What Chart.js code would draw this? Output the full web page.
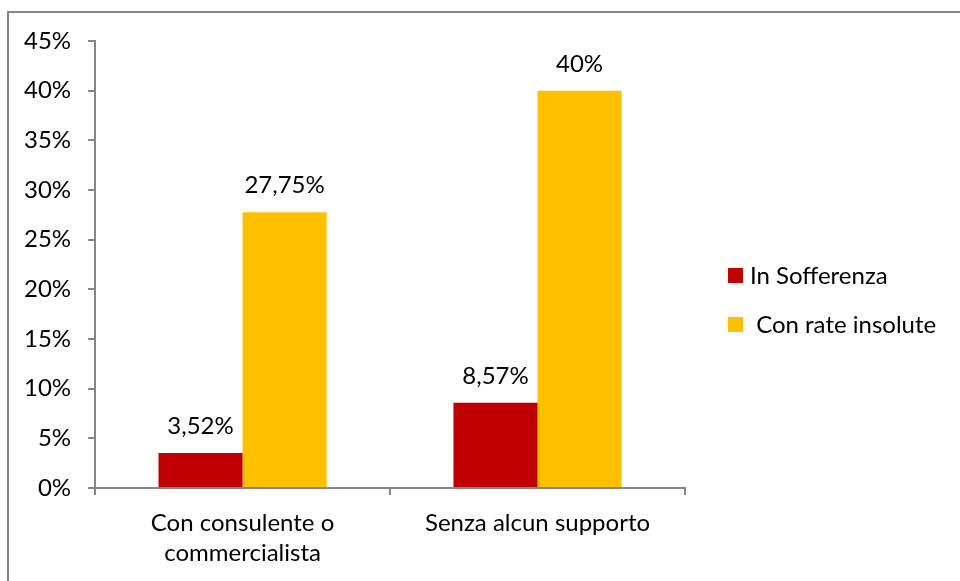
<!DOCTYPE html>
<html>
<head>
<meta charset="utf-8">
<script src="https://cdn.jsdelivr.net/npm/chart.js@4.4.0/dist/chart.umd.min.js"></script>
<style>
    html, body { margin: 0; padding: 0; background: #fff; }
    .wrap { position: relative; width: 960px; height: 581px; overflow: hidden; }
    .frame { position: absolute; left: 7px; top: 11px; width: 1000px; height: 700px; border-left: 2px solid #878787; border-top: 2px solid #878787; }
    canvas { position: absolute; left: 0; top: 0; }
</style>
</head>
<body>
<div class="wrap">
    <div class="frame"></div>
    <canvas id="chart" width="960" height="581"></canvas>
</div>
<script>
const categories = [['Con consulente o', 'commercialista'], 'Senza alcun supporto'];
const seriesNames = ['In Sofferenza', ' Con rate insolute'];
const sofferenza = [3.52, 8.57];
const rateInsolute = [27.75, 40];
const yTicks = [0, 5, 10, 15, 20, 25, 30, 35, 40, 45];

const FONT = 'Lato, "Open Sans", sans-serif';
const SIZE = 24;
const AXIS = '#868686';

const fmt = v => String(v).replace('.', ',') + '%';

// value labels above each bar
const barLabels = {
    id: 'barLabels',
    afterDatasetsDraw(chart) {
        const ctx = chart.ctx;
        ctx.save();
        ctx.font = SIZE + 'px ' + FONT;
        ctx.fillStyle = '#000';
        ctx.textAlign = 'center';
        ctx.textBaseline = 'alphabetic';
        chart.data.datasets.forEach((ds, i) => {
            chart.getDatasetMeta(i).data.forEach((bar, j) => {
                ctx.fillText(fmt(ds.data[j]), bar.x, bar.y - 19);
            });
        });
        ctx.restore();
    }
};

// legend on the right side
const sideLegend = {
    id: 'sideLegend',
    afterDraw(chart) {
        const ctx = chart.ctx;
        ctx.save();
        ctx.font = SIZE + 'px ' + FONT;
        ctx.textBaseline = 'middle';
        chart.data.datasets.forEach((ds, i) => {
            const y = 275 + i * 49;
            ctx.fillStyle = ds.backgroundColor;
            ctx.fillRect(728, y - 7, 15, 15);
            ctx.fillStyle = '#000';
            ctx.fillText(ds.label, 750, y + 1);
        });
        ctx.restore();
    }
};

new Chart(document.getElementById('chart'), {
    type: 'bar',
    data: {
        labels: categories,
        datasets: [
            { label: seriesNames[0], data: sofferenza, backgroundColor: '#C00000' },
            { label: seriesNames[1], data: rateInsolute, backgroundColor: '#FFC000' }
        ]
    },
    options: {
        responsive: false,
        animation: false,
        layout: { padding: { left: 7, top: 41, right: 275, bottom: 0 } },
        datasets: { bar: { categoryPercentage: 0.57, barPercentage: 1.0 } },
        plugins: { legend: { display: false }, tooltip: { enabled: false } },
        scales: {
            x: {
                grid: { display: true, drawOnChartArea: false, drawTicks: true, tickLength: 7, color: AXIS, lineWidth: 2, offset: true },
                border: { display: true, color: AXIS, width: 2 },
                ticks: { color: '#000', font: { family: FONT, size: SIZE, lineHeight: 1.25 }, padding: 13, maxRotation: 0 }
            },
            y: {
                min: 0,
                max: 45,
                afterBuildTicks: axis => { axis.ticks = yTicks.map(v => ({ value: v })); },
                grid: { display: true, drawOnChartArea: false, drawTicks: true, tickLength: 7, color: AXIS, lineWidth: 2 },
                border: { display: true, color: AXIS, width: 2 },
                ticks: { color: '#000', font: { family: FONT, size: SIZE }, padding: 17, callback: v => v + '%' }
            }
        }
    },
    plugins: [barLabels, sideLegend]
});
</script>
</body>
</html>
